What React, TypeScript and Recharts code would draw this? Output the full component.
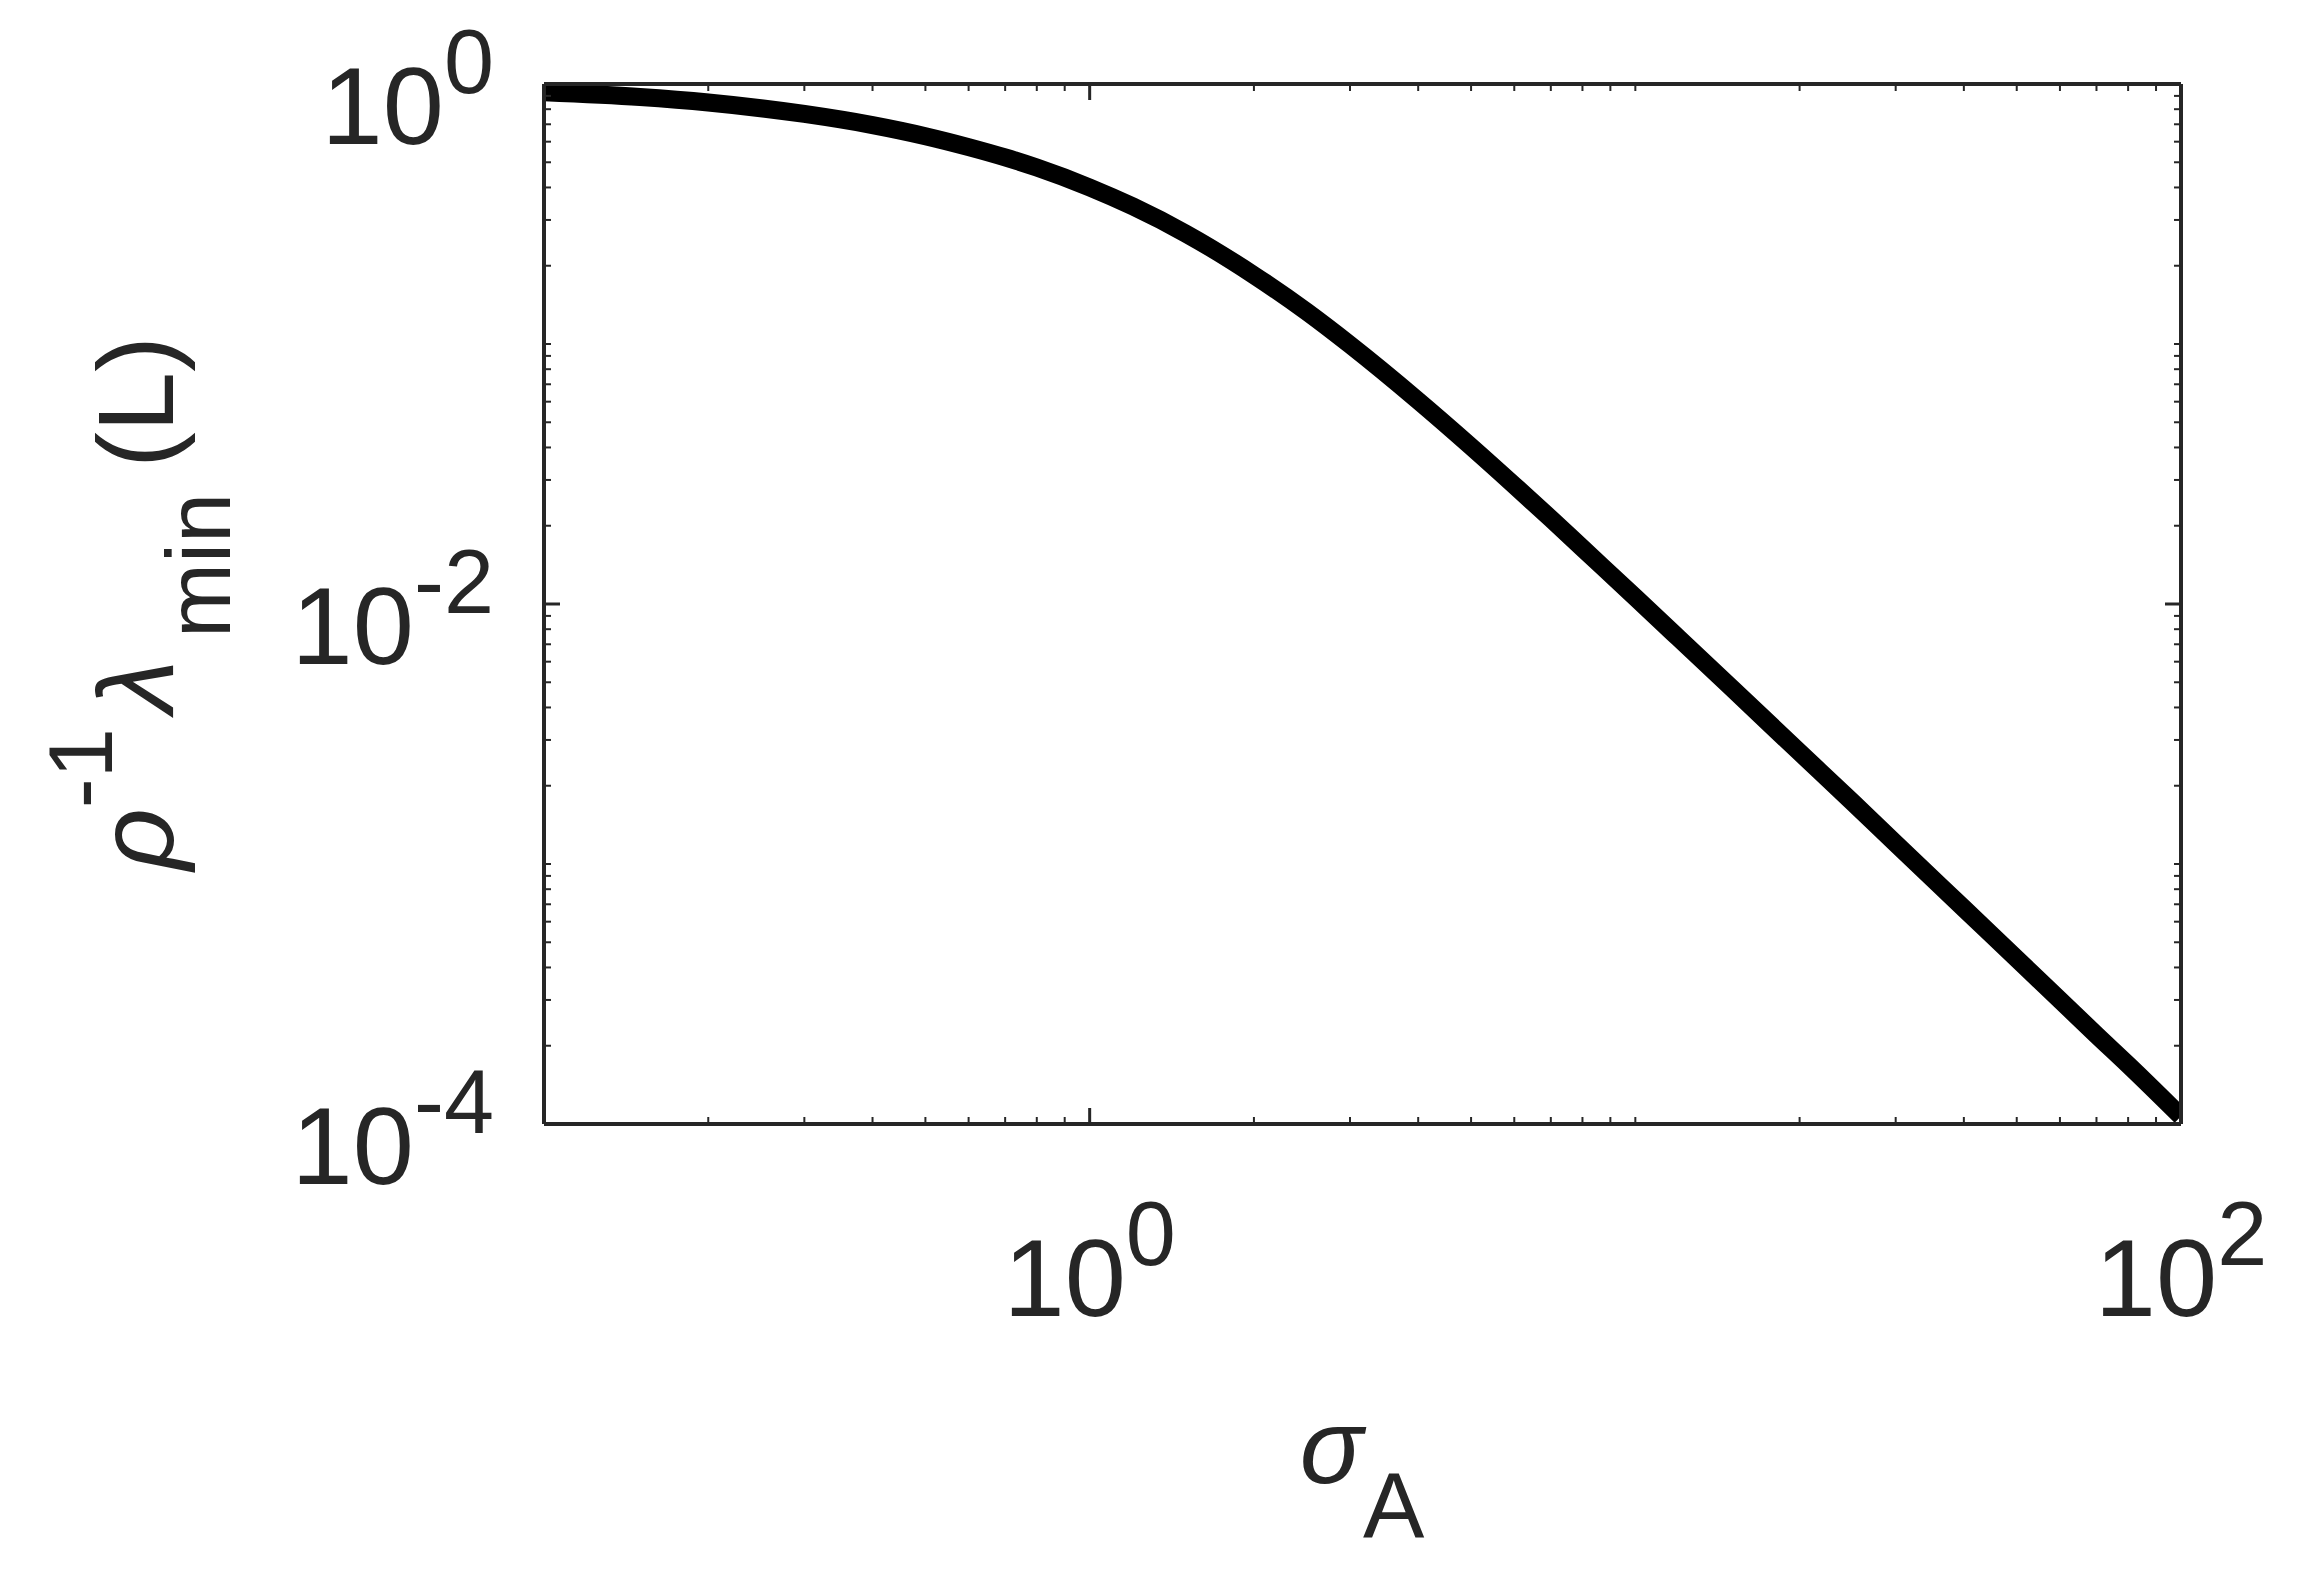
import { LineChart, Line, XAxis, YAxis } from 'recharts'

const sigma = [
  0.1, 0.15, 0.2, 0.3, 0.4, 0.5, 0.6, 0.7, 0.8, 1, 1.2, 1.5, 2, 2.5, 3, 4, 5, 6, 7, 8, 10, 12, 15, 20, 25,
  30, 40, 50, 60, 70, 80, 100,
]
const lambdaMin = [
  0.93, 0.891, 0.849, 0.767, 0.695, 0.63, 0.572, 0.522, 0.477, 0.4, 0.338, 0.266, 0.184, 0.133, 0.0993,
  0.0605, 0.0403, 0.0286, 0.0213, 0.0164, 0.0106, 0.0074, 0.00476, 0.00269, 0.00173, 0.0012, 0.000675,
  0.000432, 0.0003, 0.00022, 0.000169, 0.000107,
]

const xMajor = [1, 100]
const xMajorExp = ['0', '2']
const xMinor = [
  0.2, 0.3, 0.4, 0.5, 0.6, 0.7, 0.8, 0.9, 2, 3, 4, 5, 6, 7, 8, 9, 10, 20, 30, 40, 50, 60, 70, 80, 90,
]
const yMajor = [0.0001, 0.01, 1]
const yMajorExp = ['-4', '-2', '0']
const yMinor = [
  0.0002, 0.0003, 0.0004, 0.0005, 0.0006, 0.0007, 0.0008, 0.0009, 0.001, 0.002, 0.003, 0.004, 0.005,
  0.006, 0.007, 0.008, 0.009, 0.02, 0.03, 0.04, 0.05, 0.06, 0.07, 0.08, 0.09, 0.1, 0.2, 0.3, 0.4, 0.5,
  0.6, 0.7, 0.8, 0.9,
]

const data = sigma.map((s, i) => ({ sigma: s, lambda: lambdaMin[i] }))

const INK = '#262626'
const FONT = '"Liberation Sans", Arial, sans-serif'

const XTick = ({ x, y, payload, side }: { x?: number; y?: number; payload?: { value: number }; side: string }) => {
  if (x == null || y == null || !payload) return null
  const idx = xMajor.indexOf(payload.value)
  const major = idx >= 0
  const dir = side === 'bottom' ? -1 : 1
  return (
    <g>
      <line x1={x} x2={x} y1={y} y2={y + dir * (major ? 16 : 7)} stroke={INK} strokeWidth={major ? 3 : 2} />
      {side === 'bottom' && major && (
        <text x={x} y={y + 192} textAnchor="middle" fontFamily={FONT} fontSize={110} fill={INK}>
          10
          <tspan dy={-51} fontSize={90}>
            {xMajorExp[idx]}
          </tspan>
        </text>
      )}
    </g>
  )
}

const YTick = ({ x, y, payload, side }: { x?: number; y?: number; payload?: { value: number }; side: string }) => {
  if (x == null || y == null || !payload) return null
  const idx = yMajor.indexOf(payload.value)
  const major = idx >= 0
  const dir = side === 'left' ? 1 : -1
  return (
    <g>
      <line x1={x} x2={x + dir * (major ? 16 : 7)} y1={y} y2={y} stroke={INK} strokeWidth={major ? 3 : 2} />
      {side === 'left' && major && (
        <text x={x - 50} y={y + 60} textAnchor="end" fontFamily={FONT} fontSize={110} fill={INK}>
          10
          <tspan dy={-51} fontSize={90}>
            {yMajorExp[idx]}
          </tspan>
        </text>
      )}
    </g>
  )
}

const axisLine = { stroke: INK, strokeWidth: 4 }

export default function App() {
  return (
    <LineChart
      width={2280}
      height={1555}
      data={data}
      margin={{ top: 75, right: 106, left: 0, bottom: 0 }}
      style={{ background: '#fff' }}
    >
      <XAxis
        dataKey="sigma"
        type="number"
        scale="log"
        domain={[0.1, 100]}
        allowDataOverflow
        ticks={[...xMajor, ...xMinor]}
        interval={0}
        tickSize={0}
        tickMargin={0}
        height={439}
        axisLine={axisLine}
        tick={<XTick side="bottom" />}
      />
      {/* mirrored box axes: 1px thick so recharts still draws them */}
      <XAxis
        xAxisId="top"
        orientation="top"
        dataKey="sigma"
        type="number"
        scale="log"
        domain={[0.1, 100]}
        allowDataOverflow
        ticks={[...xMajor, ...xMinor]}
        interval={0}
        tickSize={0}
        tickMargin={0}
        height={1}
        axisLine={axisLine}
        tick={<XTick side="top" />}
      />
      <YAxis
        type="number"
        scale="log"
        domain={[0.0001, 1]}
        allowDataOverflow
        ticks={[...yMajor, ...yMinor]}
        interval={0}
        tickSize={0}
        tickMargin={0}
        width={536}
        axisLine={axisLine}
        tick={<YTick side="left" />}
      />
      <YAxis
        yAxisId="right"
        orientation="right"
        type="number"
        scale="log"
        domain={[0.0001, 1]}
        allowDataOverflow
        ticks={[...yMajor, ...yMinor]}
        interval={0}
        tickSize={0}
        tickMargin={0}
        width={1}
        axisLine={axisLine}
        tick={<YTick side="right" />}
      />
      <Line
        xAxisId="top"
        yAxisId="right"
        dataKey="lambda"
        stroke="none"
        dot={false}
        activeDot={false}
        isAnimationActive={false}
      />
      <Line
        type="monotone"
        dataKey="lambda"
        stroke="#000"
        strokeWidth={18}
        dot={false}
        activeDot={false}
        isAnimationActive={false}
      />
      <text x={1354} y={1475} textAnchor="middle" fontFamily={FONT} fontSize={105} fill={INK}>
        <tspan fontStyle="italic">σ</tspan>
        <tspan dy={55} fontSize={92}>
          A
        </tspan>
      </text>
      <text transform="translate(165,862) rotate(-90)" fontFamily={FONT} fontSize={108} fill={INK}>
        <tspan fontStyle="italic">ρ</tspan>
        <tspan dy={-61} fontSize={90}>
          -1
        </tspan>
        <tspan dy={61} dx={15} fontStyle="italic">
          λ
        </tspan>
        <tspan dy={57} dx={22} fontSize={90}>
          min
        </tspan>
        <tspan dy={-57} dx={25}>
          (L)
        </tspan>
      </text>
    </LineChart>
  )
}
